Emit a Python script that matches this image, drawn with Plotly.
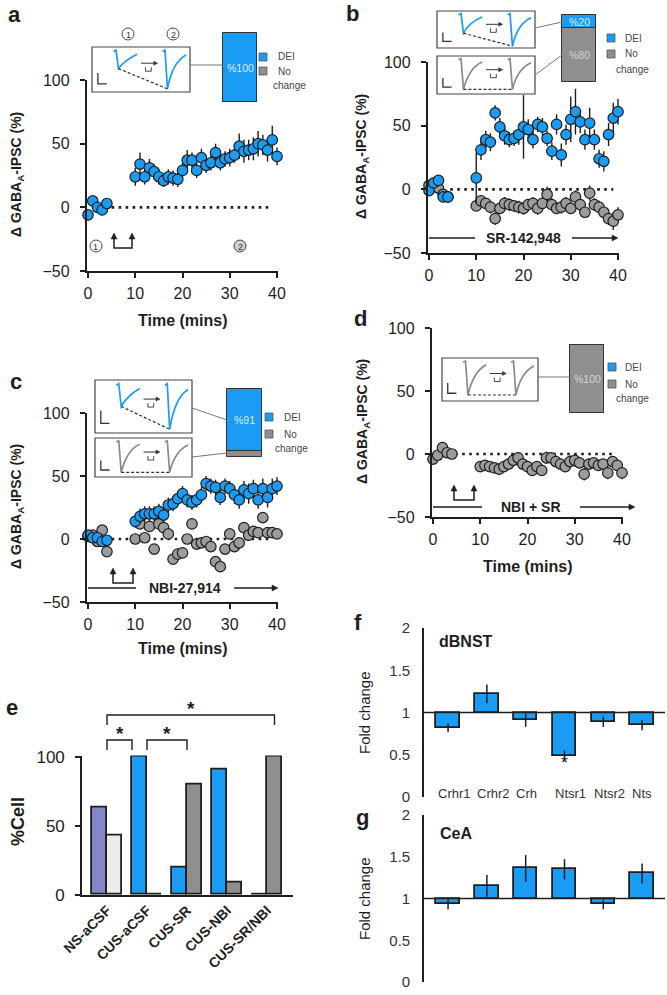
import plotly.graph_objects as go

W, H = 667, 995
FONT = "Liberation Sans, Arial, Helvetica, sans-serif"
INK = "#1e1e1e"
BLUE = "#1b9cf4"
GRAY = "#8f8f8f"
MGRAY = "#9c9c9c"

# ---------------- data ----------------
time_base = [0, 1, 2, 3, 4]
time_post = [10, 11, 12, 13, 14, 15, 16, 17, 18, 19, 20, 21, 22, 23, 24, 25,
             26, 27, 28, 29, 30, 31, 32, 33, 34, 35, 36, 37, 38, 39, 40]

# panel a (DEI)
a_dei_base = [-6, 5, 0, -2, 3]
a_dei_base_err = [3, 3, 2, 3, 2]
a_dei_post = [24, 34, 24, 31, 28, 24, 21, 24, 23, 22, 29, 37, 37, 29, 39, 33,
              35, 43, 35, 38, 39, 41, 48, 44, 45, 46, 50, 49, 45, 53, 40]
a_dei_post_err = [7, 9, 6, 7, 6, 6, 5, 6, 6, 6, 6, 8, 6, 6, 7, 6,
                  6, 7, 6, 6, 7, 6, 10, 9, 8, 9, 10, 8, 9, 11, 7]

# panel b (SR-142,948)
b_dei_base = [-1, 5, 7, -6, -6]
b_dei_base_err = [3, 3, 4, 3, 3]
b_dei_post = [9, 31, 39, 37, 60, 49, 42, 39, 40, 43, 49, 47, 39, 51, 49, 40,
              30, 51, 27, 43, 55, 61, 53, 39, 52, 39, 24, 22, 43, 56, 61]
b_dei_post_err = [20, 8, 7, 7, 6, 7, 7, 6, 6, 8, 25, 8, 7, 6, 7, 6,
                  7, 8, 9, 8, 18, 18, 9, 8, 12, 8, 7, 8, 9, 12, 10]
b_nc_base = [3, 2, 1, -4, -6]
b_nc_base_err = [3, 3, 3, 3, 3]
b_nc_post = [-13, -9, -11, -14, -23, -15, -11, -12, -13, -14, -15, -12, -11, -15, -11, -4,
             -12, -15, -14, -11, -15, -6, -12, -18, -3, -12, -14, -18, -23, -25, -20]
b_nc_post_err = [4, 4, 4, 5, 5, 4, 5, 5, 4, 5, 5, 4, 5, 5, 4, 6,
                 5, 4, 5, 5, 4, 5, 5, 4, 6, 5, 5, 5, 5, 7, 6]

# panel c (NBI-27,914)
c_dei_base = [3, 1, 1, -2, -1]
c_dei_base_err = [3, 3, 3, 3, 3]
c_dei_post = [14, 18, 20, 20, 20, 22, 19, 27, 28, 32, 36, 31, 29, 31, 35, 44,
              42, 41, 33, 42, 40, 35, 31, 39, 36, 40, 31, 40, 33, 40, 42]
c_dei_post_err = [5, 6, 6, 6, 6, 6, 6, 6, 6, 6, 6, 6, 6, 6, 6, 6,
                  6, 6, 6, 6, 6, 7, 7, 7, 8, 7, 7, 8, 8, 8, 7]
c_nc_base = [2, 3, -2, 7, -10]
c_nc_post = [0, 12, 1, 10, -8, 12, 9, 4, -16, -12, -11, 0, 12, -4, -3, -2,
             -6, -18, -22, -8, 4, -6, -3, 9, 3, 6, 5, 17, 5, 5, 4]

# panel d (NBI + SR)
d_nc_base = [-4, -1, 5, 1, 0]
d_nc_base_err = [3, 3, 3, 3, 3]
d_nc_post = [-10, -9, -10, -11, -12, -10, -8, -5, -3, -8, -10, -13, -10, -13, -3, -3,
             -6, -8, -10, -6, -5, -7, -16, -8, -7, -9, -8, -15, -6, -9, -15]
d_nc_post_err = [4, 4, 4, 4, 4, 4, 4, 4, 4, 4, 4, 4, 4, 4, 5, 4,
                 4, 4, 4, 5, 5, 4, 5, 4, 4, 4, 4, 5, 4, 4, 5]

# inset stacked bars (a, b, c, d)
inset_dei = [100, 20, 91, 0]
inset_nochange = [0, 80, 9, 100]

# panel e
e_groups = ["NS-aCSF", "CUS-aCSF", "CUS-SR", "CUS-NBI", "CUS-SR/NBI"]
e_dei = [63, 100, 20, 91, 0]
e_nochange = [43, 0, 80, 9, 100]

# panels f, g
genes = ["Crhr1", "Crhr2", "Crh", "Ntsr1", "Ntsr2", "Nts"]
f_fold = [0.82, 1.22, 0.91, 0.49, 0.89, 0.85]
f_err = [0.05, 0.11, 0.08, 0.06, 0.06, 0.06]
g_fold = [0.93, 1.15, 1.36, 1.35, 0.93, 1.30]
g_err = [0.06, 0.13, 0.16, 0.12, 0.06, 0.12]

# ---------------- helpers ----------------
fig = go.Figure()
shapes, annotations = [], []


def X(px):
    return px / W


def Y(py):
    return 1 - py / H


def T(x, y, s, size=11, color=INK, bold=False, xa="center", ya="middle", angle=0):
    annotations.append(dict(
        x=X(x), y=Y(y), xref="paper", yref="paper",
        text=("<b>%s</b>" % s) if bold else s, showarrow=False,
        font=dict(family=FONT, size=size, color=color),
        xanchor=xa, yanchor=ya, textangle=angle))


def L(x0, y0, x1, y1, color=INK, w=1.5, dash="solid"):
    shapes.append(dict(type="line", xref="paper", yref="paper",
                       x0=X(x0), y0=Y(y0), x1=X(x1), y1=Y(y1),
                       line=dict(color=color, width=w, dash=dash)))


def P(cmds, color=INK, w=1.5, fill=None, dash="solid"):
    parts = []
    for c in cmds:
        op, nums = c[0], c[1:]
        pts = ["%.5f,%.5f" % (X(nums[i]), Y(nums[i + 1])) for i in range(0, len(nums), 2)]
        parts.append(op + " ".join(pts))
    d = dict(type="path", xref="paper", yref="paper", path=" ".join(parts),
             line=dict(color=color, width=w, dash=dash))
    if fill:
        d["fillcolor"] = fill
    shapes.append(d)


def R(x0, y0, x1, y1, line="#444", w=1.2, fill="white"):
    shapes.append(dict(type="rect", xref="paper", yref="paper",
                       x0=X(x0), y0=Y(y1), x1=X(x1), y1=Y(y0),
                       line=dict(color=line, width=w), fillcolor=fill))


def circ(cx, cy, r, label, fill="white"):
    shapes.append(dict(type="circle", xref="paper", yref="paper",
                       x0=X(cx - r), x1=X(cx + r), y0=Y(cy + r), y1=Y(cy - r),
                       line=dict(color="#444", width=1), fillcolor=fill))
    T(cx, cy + 0.5, label, size=9, color="#333")


def head_right(x, y, color=INK, s=6):
    P([("M", x, y), ("L", x - s, y - s * 0.5), ("L", x - s, y + s * 0.5), ("Z",)],
      color=color, w=0.5, fill=color)


def head_up(x, y, color=INK, s=6):
    P([("M", x, y), ("L", x - s * 0.5, y + s), ("L", x + s * 0.5, y + s), ("Z",)],
      color=color, w=0.5, fill=color)


def stim(x0, x1, yt, yb):
    P([("M", x0, yt + 4), ("L", x0, yb), ("L", x1, yb), ("L", x1, yt + 4)], w=1.5)
    head_up(x0, yt)
    head_up(x1, yt)


def drug(x0, x1, y, xt0, xt1, label):
    L(x0, y, xt0, y, w=1.3)
    L(xt1, y, x1 - 4, y, w=1.3)
    head_right(x1, y)
    T((xt0 + xt1) / 2, y, label, size=14, bold=True)


def sketch(x0, y0, x1, y1, color, d1, d2):
    R(x0, y0, x1, y1)
    w, h = x1 - x0, y1 - y0
    # scale bar
    P([("M", x0 + 0.06 * w, y0 + 0.58 * h), ("L", x0 + 0.06 * w, y0 + 0.82 * h),
       ("L", x0 + 0.15 * w, y0 + 0.82 * h)], color="#333", w=1.3)
    # trace 1
    t1 = (x0 + 0.27 * w, y0 + d1 * h)
    P([("M", x0 + 0.22 * w, y0 + 0.10 * h), ("L", x0 + 0.245 * w, y0 + 0.07 * h),
       ("L", t1[0], t1[1]),
       ("Q", x0 + 0.33 * w, y0 + 0.30 * h, x0 + 0.46 * w, y0 + 0.16 * h)], color=color, w=1.7)
    # trace 2
    t2 = (x0 + 0.77 * w, y0 + d2 * h)
    P([("M", x0 + 0.72 * w, y0 + 0.10 * h), ("L", x0 + 0.745 * w, y0 + 0.07 * h),
       ("L", t2[0], t2[1]),
       ("Q", x0 + 0.82 * w, y0 + 0.34 * h, x0 + 0.96 * w, y0 + 0.18 * h)], color=color, w=1.7)
    # dashed line between troughs
    L(t1[0], t1[1], t2[0], t2[1], color="#333", w=1.2, dash="3px,2px")
    # arrow with small stimulus symbol
    ya = y0 + 0.36 * h
    L(x0 + 0.50 * w, ya, x0 + 0.63 * w, ya, color="#333", w=1)
    head_right(x0 + 0.67 * w, ya, color="#333", s=4)
    P([("M", x0 + 0.545 * w, ya + 4), ("L", x0 + 0.545 * w, ya + 8),
       ("L", x0 + 0.605 * w, ya + 8), ("L", x0 + 0.605 * w, ya + 4)], color="#333", w=0.9)


def legend_box(xs, y_dei, y_nc, xt, xc):
    R(xs, y_dei - 4, xs + 8, y_dei + 4, line="#555", w=0.8, fill=BLUE)
    R(xs, y_nc - 4, xs + 8, y_nc + 4, line="#555", w=0.8, fill=GRAY)
    T(xt, y_dei, "DEI", size=10, color="#444", xa="left")
    T(xt, y_nc, "No", size=10, color="#444", xa="left")
    T(xc, y_nc + 15, "change", size=10, color="#444")


AX = dict(showline=True, linecolor=INK, linewidth=1.6, ticks="outside", ticklen=5,
          tickwidth=1.6, tickcolor=INK, showgrid=False, zeroline=False, automargin=False,
          tickfont=dict(family=FONT, size=16, color=INK))
PXM = 4.725  # pixels per minute


def time_x(x_at0, anchor):
    lo, hi = -0.3, 40.3
    return dict(domain=[X(x_at0 + lo * PXM), X(x_at0 + hi * PXM)], range=[lo, hi],
                anchor=anchor, tickvals=[0, 10, 20, 30, 40], ticklabelstandoff=2, **AX)


def gaba_y(y100, ym50, anchor):
    return dict(domain=[Y(ym50), Y(y100)], range=[-50, 100], anchor=anchor,
                tickvals=[-50, 0, 50, 100], ticklabelstandoff=7, **AX)


def scat(xa, ya, t, y, err, color):
    fig.add_trace(go.Scatter(
        x=t, y=y, mode="markers", xaxis=xa, yaxis=ya, cliponaxis=False,
        marker=dict(size=10.5, color=color, line=dict(width=1.2, color=INK)),
        error_y=dict(type="data", array=err, visible=err is not None, color=INK,
                     thickness=1.4, width=0),
        showlegend=False, hoverinfo="skip"))


def zero_dots(xa, ya, x0, x1):
    shapes.append(dict(type="line", xref=xa, yref=ya, x0=x0, x1=x1, y0=0, y1=0,
                       layer="below", line=dict(color=INK, width=2.6, dash="2.6px,4.4px")))


# ---------------- panel a ----------------
scat("x", "y", time_base + time_post, a_dei_base + a_dei_post,
     a_dei_base_err + a_dei_post_err, BLUE)
zero_dots("x", "y", 5, 39)

# ---------------- panel b ----------------
scat("x2", "y2", time_base + time_post, b_nc_base + b_nc_post,
     b_nc_base_err + b_nc_post_err, MGRAY)
scat("x2", "y2", time_base + time_post, b_dei_base + b_dei_post,
     b_dei_base_err + b_dei_post_err, BLUE)
zero_dots("x2", "y2", 4.5, 39)

# ---------------- panel c ----------------
scat("x3", "y3", time_base + time_post, c_nc_base + c_nc_post, None, MGRAY)
scat("x3", "y3", time_base + time_post, c_dei_base + c_dei_post,
     c_dei_base_err + c_dei_post_err, BLUE)
zero_dots("x3", "y3", 5, 39)

# ---------------- panel d ----------------
scat("x4", "y4", time_base + time_post, d_nc_base + d_nc_post,
     d_nc_base_err + d_nc_post_err, MGRAY)
zero_dots("x4", "y4", 4.7, 38)

# ---------------- panel e ----------------
fig.add_trace(go.Bar(
    x=e_groups, y=e_dei, xaxis="x5", yaxis="y5", offset=-0.375, width=0.375,
    marker=dict(color=["#8585c9", BLUE, BLUE, BLUE, BLUE], line=dict(color=INK, width=1.8)),
    showlegend=False, hoverinfo="skip"))
fig.add_trace(go.Bar(
    x=e_groups, y=e_nochange, xaxis="x5", yaxis="y5", offset=0, width=0.375,
    marker=dict(color=["#ececec", GRAY, GRAY, GRAY, GRAY], line=dict(color=INK, width=1.8)),
    showlegend=False, hoverinfo="skip"))

# ---------------- panels f, g ----------------
for vals, errs, xa, ya in [(f_fold, f_err, "x6", "y6"), (g_fold, g_err, "x7", "y7")]:
    fig.add_trace(go.Bar(
        x=genes, y=[v - 1 for v in vals], base=1, xaxis=xa, yaxis=ya, width=0.6,
        marker=dict(color=BLUE, line=dict(color=INK, width=1.8)),
        error_y=dict(type="data", array=errs, color=INK, thickness=1.5, width=0),
        showlegend=False, hoverinfo="skip"))
    shapes.append(dict(type="line", xref=xa, yref=ya, x0=-0.62, x1=5.59, y0=1, y1=1,
                       line=dict(color=INK, width=1.6)))

# ---------------- inset stacked bars ----------------
inset_boxes = [(223, 257, 33, 102), (562, 596, 15, 82), (227, 262, 389, 457), (570, 604, 345, 413)]
for k, (bx0, bx1, by0, by1) in enumerate(inset_boxes):
    n = 8 + k
    nc, de = inset_nochange[k], inset_dei[k]
    fig.add_trace(go.Bar(
        x=[0], y=[nc], base=[0], width=1, xaxis="x%d" % n, yaxis="y%d" % n,
        marker=dict(color=GRAY, line=dict(color="#333", width=1)),
        showlegend=False, hoverinfo="skip"))
    fig.add_trace(go.Bar(
        x=[0], y=[de], base=[nc], width=1, xaxis="x%d" % n, yaxis="y%d" % n,
        marker=dict(color=BLUE, line=dict(color="#333", width=1)),
        showlegend=False, hoverinfo="skip"))
    # percentage labels, placed at the centre of each segment
    for val, lo, col in [(nc, 0, "#d4d4d4"), (de, nc, "#d8ecff")]:
        if val >= 15:
            annotations.append(dict(x=0, y=lo + val / 2, xref="x%d" % n, yref="y%d" % n,
                                    text="%%%d" % val, showarrow=False,
                                    font=dict(family=FONT, size=10.5, color=col)))

# ---------------- layout axes ----------------
lay = dict(
    xaxis=time_x(88, "y"), yaxis=gaba_y(80, 271, "x"),
    xaxis2=time_x(429, "y2"), yaxis2=gaba_y(62, 253, "x2"),
    xaxis3=time_x(88, "y3"), yaxis3=gaba_y(413, 602, "x3"),
    xaxis4=time_x(433, "y4"), yaxis4=gaba_y(328, 517, "x4"),
)
e_ax = dict(AX)
e_ax["tickfont"] = dict(family=FONT, size=17, color=INK)
lay["xaxis5"] = dict(domain=[X(82), X(293)], range=[-0.625, 4.65], anchor="y5",
                     showline=True, linecolor=INK, linewidth=1.6, ticks="", automargin=False,
                     showgrid=False, zeroline=False, tickangle=-45, type="category",
                     tickfont=dict(family=FONT, size=14, color=INK, weight="bold"))
lay["yaxis5"] = dict(domain=[Y(895), Y(757 - 1.4)], range=[0, 101], anchor="x5",
                     tickvals=[0, 50, 100], ticklabelstandoff=7, **e_ax)
fg_y = dict(showline=True, linecolor=INK, linewidth=1.6, ticks="", showgrid=False,
            zeroline=False, range=[0, 2], tickvals=[0, 0.5, 1, 1.5, 2], automargin=False,
            ticktext=["0", "0.5", "1", "1.5", "2"], ticklabelstandoff=9,
            tickfont=dict(family=FONT, size=15, color="#333"))
lay["xaxis6"] = dict(domain=[X(424), X(665)], range=[-0.62, 5.59], anchor="y6",
                     visible=False, type="category")
lay["yaxis6"] = dict(domain=[Y(797), Y(628)], anchor="x6", **fg_y)
lay["xaxis7"] = dict(domain=[X(424), X(665)], range=[-0.62, 5.59], anchor="y7",
                     visible=False, type="category")
lay["yaxis7"] = dict(domain=[Y(982), Y(815)], anchor="x7", **fg_y)
for k, (bx0, bx1, by0, by1) in enumerate(inset_boxes):
    n = 8 + k
    pad = 2.0
    wpx, hpx = bx1 - bx0, by1 - by0
    lay["xaxis%d" % n] = dict(domain=[X(bx0 - pad), X(bx1 + pad)],
                              range=[-0.5 - pad / wpx, 0.5 + pad / wpx],
                              anchor="y%d" % n, visible=False)
    lay["yaxis%d" % n] = dict(domain=[Y(by1 + pad), Y(by0 - pad)],
                              range=[-pad * 100 / hpx, 100 + pad * 100 / hpx],
                              anchor="x%d" % n, visible=False)

# ---------------- decorations: panel a ----------------
sketch(92, 47, 190, 92, BLUE, 0.48, 0.93)
L(190, 65, 223, 65, color="#777", w=1)
legend_box(259, 57, 71, 276, 289)
circ(128, 34, 6, "1")
circ(173, 34, 6, "2")
circ(96, 246, 6, "1")
circ(240, 246, 6, "2", fill="#cfcfcf")
stim(114, 132, 233, 248)

# panel b
sketch(437, 11, 535, 48, BLUE, 0.6, 0.95)
sketch(437, 56, 535, 94, "#8a8a8a", 0.88, 0.88)
L(535, 28, 562, 22, color="#777", w=1)
L(535, 75, 562, 55, color="#777", w=1)
legend_box(607, 38, 54, 623, 632)
drug(429, 618, 238, 475, 572, "SR-142,948")

# panel c
sketch(95, 380, 192, 433, BLUE, 0.5, 0.93)
sketch(95, 438, 192, 477, "#8a8a8a", 0.88, 0.88)
L(192, 408, 227, 420, color="#777", w=1)
L(192, 457, 227, 453, color="#777", w=1)
legend_box(265, 417, 434, 282, 291)
stim(113, 133, 568, 583)
drug(88, 278, 588, 136, 234, "NBI-27,914")

# panel d
sketch(442, 358, 538, 401, "#8a8a8a", 0.86, 0.86)
L(538, 377, 570, 377, color="#777", w=1)
legend_box(608, 367, 384, 623, 632)
stim(454, 474, 485, 500)
drug(433, 635, 507, 482, 580, "NBI + SR")


# panel e brackets (derived from axis mapping: category i centre = 107 + 40 i)
def ecx(i):
    return 82 + (i + 0.625) * 40


P([("M", ecx(0), 725), ("L", ecx(0), 715), ("L", ecx(4) + 7.5, 715), ("L", ecx(4) + 7.5, 725)], w=1.4)
P([("M", ecx(0), 750), ("L", ecx(0), 740), ("L", ecx(1) - 15, 740), ("L", ecx(1) - 15, 750)], w=1.4)
P([("M", ecx(1), 750), ("L", ecx(1), 740), ("L", ecx(2), 740), ("L", ecx(2), 750)], w=1.4)
T((ecx(0) + ecx(4) + 7.5) / 2, 708, "*", size=19, bold=True)
T((ecx(0) + ecx(1) - 15) / 2, 733, "*", size=19, bold=True)
T((ecx(1) + ecx(2)) / 2, 733, "*", size=19, bold=True)

# panel f, g texts
for i, gname in enumerate(genes):
    annotations.append(dict(x=i - 0.3, y=Y(793), xref="x6", yref="paper", text=gname,
                            showarrow=False, xanchor="left", yanchor="middle",
                            font=dict(family=FONT, size=13, color="#333")))
annotations.append(dict(x=3, y=Y(775), xref="x6", yref="paper", text="*", showarrow=False,
                        font=dict(family=FONT, size=18, color=INK)))
T(437, 641, "dBNST", size=16, bold=True, xa="left")
T(438, 833, "CeA", size=16, bold=True, xa="left")

# axis titles
ytitle = "Δ GABA<sub>A</sub>-IPSC (%)"
T(17, 175, ytitle, size=14, bold=True, angle=-90)
T(362, 157, ytitle, size=14, bold=True, angle=-90)
T(17, 507, ytitle, size=14, bold=True, angle=-90)
T(363, 422, ytitle, size=14, bold=True, angle=-90)
T(183, 320, "Time (mins)", size=16, bold=True)
T(183, 648, "Time (mins)", size=16, bold=True)
T(528, 566, "Time (mins)", size=16, bold=True)
T(18, 822, "%Cell", size=18, bold=True, angle=-90)
T(364, 712, "Fold change", size=15, angle=-90)
T(364, 898, "Fold change", size=15, angle=-90)

# panel letters
for lab, x, y in [("a", 14, 15), ("b", 352, 13), ("c", 16, 381), ("d", 360, 318),
                  ("e", 12, 707), ("f", 358, 622), ("g", 362, 817)]:
    T(x, y, lab, size=22, bold=True)

fig.update_layout(
    width=W, height=H, margin=dict(l=0, r=0, t=0, b=0, autoexpand=False),
    paper_bgcolor="white", plot_bgcolor="rgba(0,0,0,0)",
    barmode="overlay", showlegend=False, bargap=0,
    font=dict(family=FONT, color=INK),
    shapes=shapes, annotations=annotations, **lay)

fig.write_html("out.html", config={"displayModeBar": False},
               post_script="document.body.style.margin='0px';document.body.style.overflow='hidden';")
